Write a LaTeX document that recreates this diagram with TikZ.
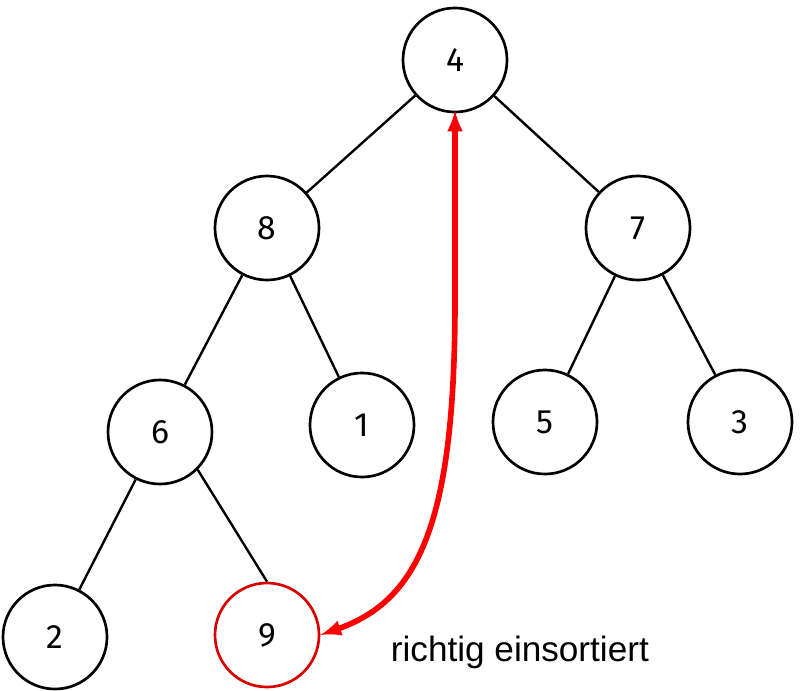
\documentclass[tikz,border=0pt]{standalone}
\usepackage{fontspec}
\setmainfont{Liberation Sans}
\newfontfamily\digits{Fira Sans}
\begin{document}
\begin{tikzpicture}[x=0.025cm,y=-0.025cm,
  nd/.style={circle,draw,line width=1.9pt,minimum size=2.6cm,inner sep=0pt,font=\digits\fontsize{24}{28}\selectfont},
  ed/.style={line width=1.7pt}]
\useasboundingbox (0,0) rectangle (800,690);
\node[nd] (n4) at (455,60) {4};
\node[nd] (n8) at (267,228) {8};
\node[nd] (n7) at (638,228) {7};
\node[nd] (n6) at (160,432) {6};
\node[nd] (n1) at (362,425) {1};
\node[nd] (n5) at (545,422) {5};
\node[nd] (n3) at (740,422) {3};
\node[nd] (n2) at (55,637) {2};
\node[nd,draw=red!85!black] (n9) at (267,635) {9};
\draw[ed] (n4)--(n8); \draw[ed] (n4)--(n7);
\draw[ed] (n8)--(n6); \draw[ed] (n8)--(n1);
\draw[ed] (n7)--(n5); \draw[ed] (n7)--(n3);
\draw[ed] (n6)--(n2); \draw[ed] (n6.south east)--(n9.north);
\draw[red,line width=4pt,-latex,shorten >=-2pt] (455,300) -- (n4.south);
\draw[red,line width=4pt,-latex] (455,300) .. controls (455,520) and (420,600) .. (n9.east);
\node[anchor=west,font=\fontsize{25}{30}\selectfont] (lab) at (386,652) {richtig einsortiert};
\end{tikzpicture}
\end{document}
